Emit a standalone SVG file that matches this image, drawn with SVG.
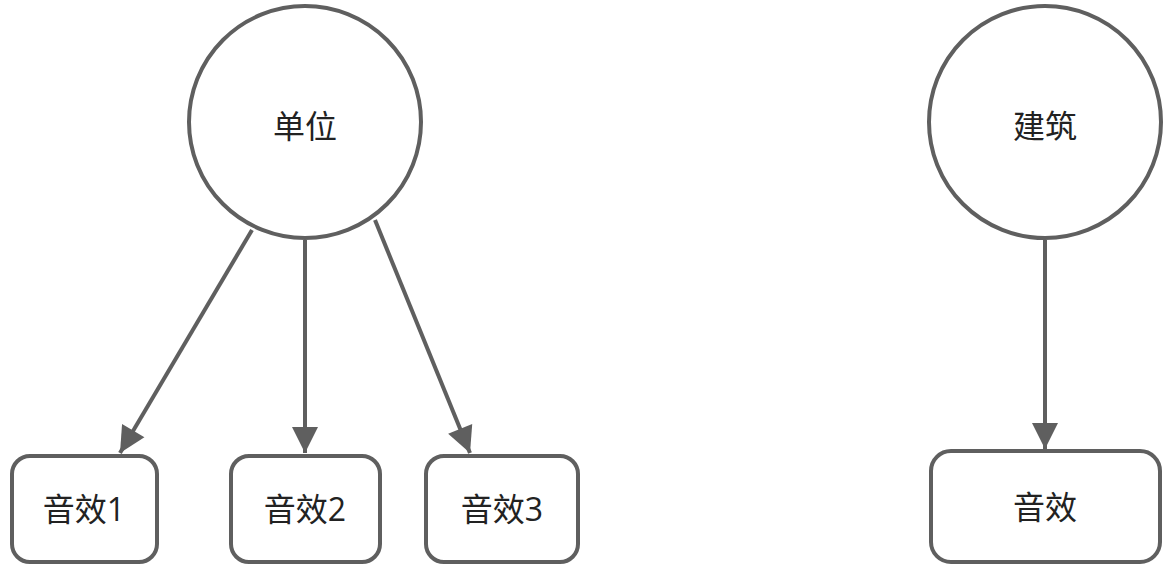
<svg xmlns="http://www.w3.org/2000/svg" width="1173" height="568" viewBox="0 0 1173 568">
<style>
.n{fill:#fff;stroke:#5f5f5f;stroke-width:4}
.t{font-family:"Open Sans","Noto Sans CJK SC",sans-serif;font-size:32px;fill:#222;text-anchor:middle;dominant-baseline:central}
.c{stroke:#5f5f5f;stroke-width:4;fill:none;marker-end:url(#ah)}
</style>
<defs>
<marker id="ah" markerUnits="userSpaceOnUse" markerWidth="32" markerHeight="32" viewBox="0 0 32 32" refX="28" refY="16" orient="auto">
<path d="M2,3 L28,16 L2,29 Z" fill="#5f5f5f"/>
</marker>
</defs>
<rect width="1173" height="568" fill="#fff"/>
<g id="connectors">
<path class="c" d="M252,230 L120,453"/>
<path class="c" d="M305,240 L305,453"/>
<path class="c" d="M375,220 L470,453"/>
<path class="c" d="M1045,240 L1045,449"/>
</g>
<g id="unit"><circle class="n" cx="305" cy="122" r="116"/><text class="t" x="305" y="125">单位</text></g>
<g id="building"><circle class="n" cx="1045" cy="122" r="116"/><text class="t" x="1045" y="125">建筑</text></g>
<g id="sfx1"><rect class="n" x="12" y="456" width="145" height="106" rx="18"/><text class="t" x="84" y="508">音效1</text></g>
<g id="sfx2"><rect class="n" x="231" y="456" width="149" height="106" rx="18"/><text class="t" x="305" y="508">音效2</text></g>
<g id="sfx3"><rect class="n" x="426" y="456" width="152" height="106" rx="18"/><text class="t" x="502" y="508">音效3</text></g>
<g id="sfx"><rect class="n" x="931" y="451" width="229" height="111" rx="20"/><text class="t" x="1045" y="506">音效</text></g>
</svg>
